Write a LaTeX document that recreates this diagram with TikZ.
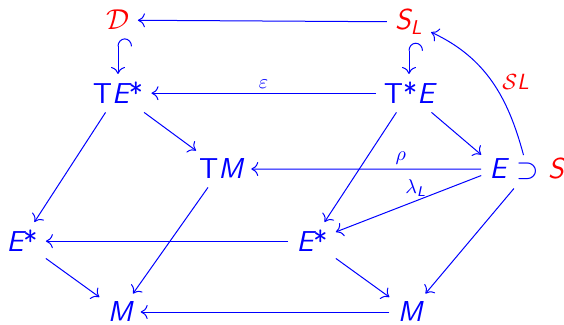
\documentclass[tikz,border=0pt]{standalone}
\usepackage{amsmath, amssymb}
\usepackage{tikz}
\usetikzlibrary{arrows.meta}
\definecolor{MapBlue}{RGB}{0,0,255}
\definecolor{MapRed}{RGB}{255,0,0}
\newcommand{\sv}[1]{\textsf{\itshape #1}}
\newcommand{\su}[1]{\textsf{\upshape #1}}

\begin{document}
\begin{tikzpicture}[
            x=0.5pt, y=-0.5pt,
            font=\fontsize{14.4}{17}\selectfont,
            obj/.style={text=MapBlue, inner sep=4pt, anchor=base},
            redobj/.style={obj, text=MapRed},
            map/.style={draw=MapBlue, line width=0.5pt, -{To[length=3.5pt, width=7pt]}},
            incl/.style={map, {Hooks[right, width=14pt, length=4pt]}-{To[length=3.5pt, width=7pt]}},
            lab/.style={font=\fontsize{10}{12}\selectfont, text=MapBlue, inner sep=2pt},
            redlab/.style={lab, font=\fontsize{11}{13}\selectfont, text=MapRed}
        ]
        \useasboundingbox (0,0) rectangle (564,325);

        % --- Top rows: sections and cotangent side ---
        \node[redobj] (D) at (118,30) {$\mathcal{D}$};
        \node[redobj] (SL) at (409,30) {$\sv{S}_{\sv{L}}$};
        \node[obj] (TEs) at (118,104) {$\su{T}\sv{E}\su{*}$};
        \node[obj] (TsE) at (409,104) {$\su{T}\su{*}\sv{E}$};

        % --- Middle row ---
        \node[obj] (TM) at (221,179) {$\su{T}\sv{M}$};
        \node[obj] (E) at (498,179) {$\sv{E}$};
        \node[obj] (sup) at (528,179) {$\supset$};
        \node[redobj] (S) at (556,179) {$\sv{S}$};

        % --- Bottom rows: bundles over M ---
        \node[obj] (Esl) at (22,252) {$\sv{E}\su{*}$};
        \node[obj] (Esm) at (312,252) {$\sv{E}\su{*}$};
        \node[obj] (Ml) at (120,322) {$\sv{M}$};
        \node[obj] (Mr) at (410,322) {$\sv{M}$};

        % --- Horizontal maps ---
        \path[map] (SL) -- (D);
        \path[map] (TsE) -- node[lab, above] {$\varepsilon$} (TEs);
        \path[map] (E) -- node[lab, above, pos=0.35] {$\rho$} (TM);
        \path[map] (Esm) -- (Esl);
        \path[map] (Mr) -- (Ml);

        % --- Inclusions ---
        \path[incl] (D) -- (TEs);
        \path[incl] (SL) -- (TsE);

        % --- Diagonal maps ---
        \path[map] (TEs) -- (TM);
        \path[map] (TEs) -- (Esl);
        \path[map] (TsE) -- (E);
        \path[map] (TsE) -- (Esm);
        \path[map] (E) -- node[lab, above, pos=0.45] {$\lambda_{\sv{L}}$} (Esm);
        \path[map] (sup) -- (Mr);
        \path[map] (TM) -- (Ml);
        \path[map] (Esl) -- (Ml);
        \path[map] (Esm) -- (Mr);

        % --- Section map back to S_L ---
        \path[map] (sup) to[out=105, in=-25] node[redlab, right=3pt, pos=0.5] {$\mathcal{S}\sv{L}$} (SL);

        \end{tikzpicture}
\end{document}
